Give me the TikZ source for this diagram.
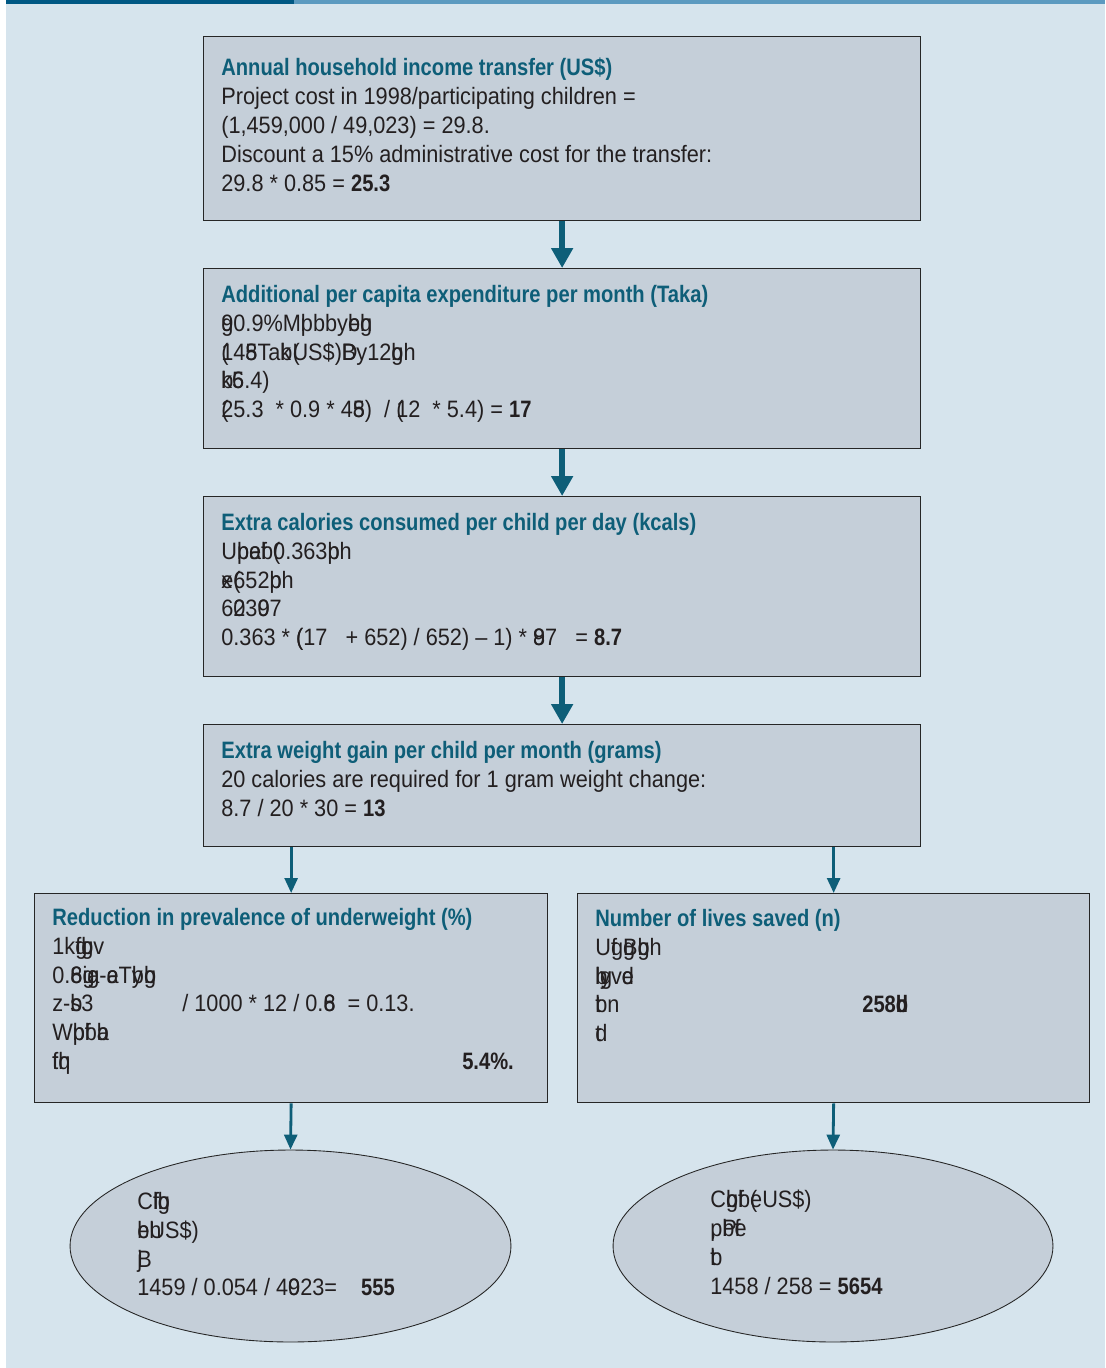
\documentclass[tikz,border=0pt]{standalone}
\usepackage{fontspec}
\setmainfont[FakeStretch=0.915,BoldFeatures={FakeStretch=0.85}]{Liberation Sans}
\usepackage{tikz}
\usetikzlibrary{arrows.meta,shapes.geometric}
\definecolor{panel}{RGB}{214,228,237}
\definecolor{boxfill}{RGB}{197,207,217}
\definecolor{deepteal}{RGB}{14,94,120}
\definecolor{bodyink}{RGB}{35,31,32}
\definecolor{bardark}{RGB}{0,88,132}
\definecolor{barlight}{RGB}{92,154,192}
\newcommand\ov[2]{\rlap{#1}#2}
\newcommand\hd[1]{\textcolor{deepteal}{\bfseries #1}}

\begin{document}
\begin{tikzpicture}[x=0.02cm,y=-0.02cm,
 frame/.style={draw=black!85,line width=0.8pt,fill=boxfill,inner sep=0pt,anchor=north west},
 oval/.style={ellipse,draw=black!85,line width=0.5pt,fill=boxfill,inner sep=0pt},
 body/.style={anchor=north west,inner sep=0pt,align=left,text=bodyink,
   font=\fontsize{13.5}{16.4}\selectfont},
 bigarrow/.style={deepteal,line width=3.4pt,-{Triangle[width=0.42cm,length=0.4cm]}},
 thinarrow/.style={deepteal,line width=1.6pt,-{Triangle[width=0.26cm,length=0.3cm]}}]
 \useasboundingbox (0,0) rectangle (1105,1368);
 \fill[panel] (6,0) rectangle (1105,1368);
 \fill[bardark] (6,0) rectangle (294,4);
 \fill[barlight] (294,0) rectangle (1105,4);
 % boxes
 \node[frame,minimum width=14.34cm,minimum height=3.68cm] (b1) at (203,36) {};
 \node[frame,minimum width=14.34cm,minimum height=3.6cm] (b2) at (203,268) {};
 \node[frame,minimum width=14.34cm,minimum height=3.6cm] (b3) at (203,496) {};
 \node[frame,minimum width=14.34cm,minimum height=2.44cm] (b4) at (203,724) {};
 \node[frame,minimum width=10.26cm,minimum height=4.18cm] (b5) at (34,893) {};
 \node[frame,minimum width=10.24cm,minimum height=4.18cm] (b6) at (577,893) {};
 \node[oval,minimum width=8.82cm,minimum height=3.84cm] (e1) at (290.5,1246) {};
 \node[oval,minimum width=8.8cm,minimum height=3.84cm] (e2) at (833,1246) {};
 % texts
 \node[body] (t1) at (221,58) {\hd{Annual household income transfer (US\$)}\\
   Project cost in 1998/participating children =\\
   (1,459,000 / 49,023) = 29.8.\\
   Discount a 15\% administrative cost for the transfer:\\
   29.8 * 0.85 = \textbf{25.3}};
 \node[body] (t2) at (221,285) {\hd{Additional per capita expenditure per month (Taka)}\\
   \ov{g}{9}0.9\%M\ov{l}{p}bby\ov{b}{e}\ov{h}{g}\\
   \ov{(}{1}4\ov{8}{5}Ta\ov{k}{b}\ov{(}{U}S\$)\ov{D}{B}y12\ov{g}{b}h\\
   \ov{b}{k}\ov{5}{6}.4)\\
   \ov{(}{2}5.3~~* 0.9 * 4\ov{8}{5})~~/ \ov{(}{1}2~~* 5.4) = \textbf{17}};
 \node[body] (t3) at (221,513) {\hd{Extra calories consumed per child per day (kcals)}\\
   U\ov{p}{b}\ov{a}{e}\ov{f}{b}\ov{(}{0}.363\ov{b}{p}h\\
   \ov{x}{e}\ov{(}{6}52\ov{b}{p}h\\
   6\ov{0}{2}3\ov{0}{9}7\\
   0.363 * \ov{(}{(}17~~~+ 652) / 652) -- 1) * \ov{9}{8}7~~~= \textbf{8.7}};
 \node[body] (t4) at (221,741) {\hd{Extra weight gain per child per month (grams)}\\
   20 calories are required for 1 gram weight change:\\
   8.7 / 20 * 30 = \textbf{13}};
 \node[body] (t5) at (52,908) {\hd{Reduction in prevalence of underweight (\%)}\\
   1k\ov{g}{f}\ov{b}{g}v\\
   0.\ov{6}{8}\ov{g}{i}\ov{a}{g}-\ov{a}{e}T\ov{y}{b}\ov{b}{g}\\
   \makebox[2.6cm][l]{z-\ov{b}{s}3}/ 1000 * 12 / 0.\ov{6}{8}~~= 0.13.\\
   W\ov{p}{b}\ov{f}{b}\ov{b}{a}\\
   \makebox[8.2cm][l]{\ov{f}{t}\ov{q}{h}}\textbf{5.4\%.}};
 \node[body] (t6) at (595,909) {\hd{Number of lives saved (n)}\\
   U\ov{f}{g}\ov{g}{B}\ov{b}{g}h\\
   \ov{b}{l}\ov{g}{y}v\ov{e}{d}\\
   \makebox[5.34cm][l]{\ov{t}{b}n}\textbf{258\ov{b}{d}}\\
   \ov{t}{d}};
 \node[body] (t7) at (137,1192) {C\ov{f}{l}\ov{b}{g}\\
   \ov{b}{e}\ov{h}{U}S\$)\\
   \ov{j}{B}\\
   1459 / 0.054 / 4\ov{9}{0}23=~~~~\textbf{555}};
 \node[body] (t8) at (710,1190) {C\ov{b}{g}\ov{f}{b}\ov{(}{e}US\$)\\
   \ov{,}{p}\ov{P}{b}\ov{f}{e}\\
   \ov{b}{t}\\
   1458 / 258 = \textbf{5654}};
 % connectors
 \draw[bigarrow] (b1.south) -- (b2.north);
 \draw[bigarrow] (b2.south) -- (b3.north);
 \draw[bigarrow] (b3.south) -- (b4.north);
 \draw[thinarrow] (b4.south -| b5.north) -- (b5.north);
 \draw[thinarrow] (b4.south -| b6.north) -- (b6.north);
 \draw[thinarrow] (b5.south) -- (e1.north);
 \draw[thinarrow] (b6.south) -- (e2.north);
\end{tikzpicture}
\end{document}
